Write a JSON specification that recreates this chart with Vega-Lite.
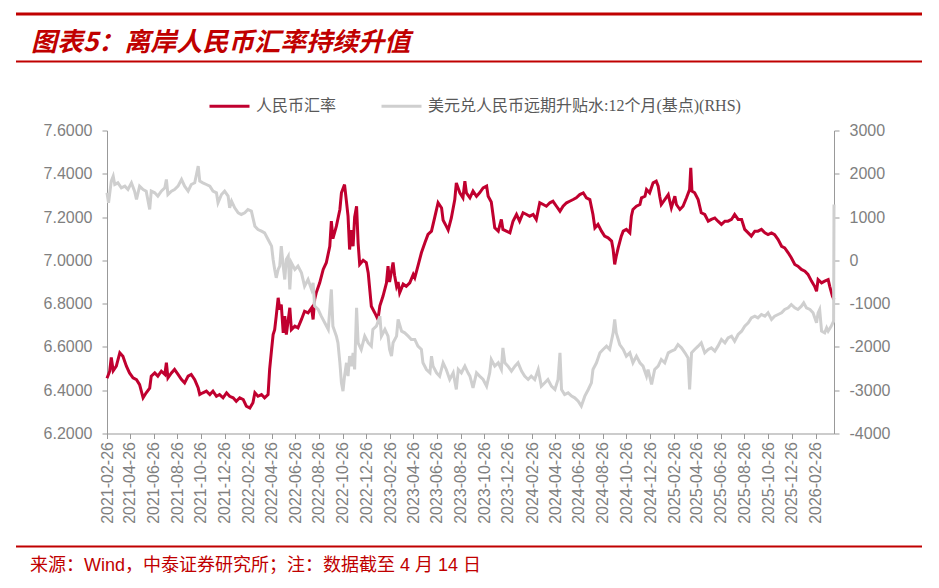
{
"$schema": "https://vega.github.io/schema/vega-lite/v6.json",
"background": "white",
"padding": {"left": 16, "top": 12.5, "right": 0, "bottom": 5},
"config": {"view": {"stroke": null}, "axisX": {"labelOverlap": false, "labelSeparation": 0, "labelFlush": false, "labelBound": false}},
"datasets": {
"cny": [
{"date":"2021-02-26","value":6.455},{"date":"2021-03-05","value":6.488},{"date":"2021-03-09","value":6.551},{"date":"2021-03-14","value":6.49},{"date":"2021-03-22","value":6.511},{"date":"2021-03-31","value":6.573},{"date":"2021-04-08","value":6.557},{"date":"2021-04-17","value":6.511},{"date":"2021-04-25","value":6.48},{"date":"2021-05-04","value":6.457},{"date":"2021-05-13","value":6.449},{"date":"2021-05-21","value":6.426},{"date":"2021-05-30","value":6.365},{"date":"2021-06-07","value":6.388},{"date":"2021-06-16","value":6.41},{"date":"2021-06-20","value":6.465},{"date":"2021-06-29","value":6.48},{"date":"2021-07-07","value":6.465},{"date":"2021-07-16","value":6.488},{"date":"2021-07-25","value":6.473},{"date":"2021-07-29","value":6.527},{"date":"2021-08-02","value":6.457},{"date":"2021-08-11","value":6.48},{"date":"2021-08-19","value":6.496},{"date":"2021-08-28","value":6.473},{"date":"2021-09-06","value":6.449},{"date":"2021-09-14","value":6.434},{"date":"2021-09-23","value":6.465},{"date":"2021-10-01","value":6.473},{"date":"2021-10-10","value":6.449},{"date":"2021-10-19","value":6.41},{"date":"2021-10-23","value":6.38},{"date":"2021-10-31","value":6.388},{"date":"2021-11-09","value":6.396},{"date":"2021-11-18","value":6.38},{"date":"2021-11-26","value":6.396},{"date":"2021-12-05","value":6.372},{"date":"2021-12-13","value":6.38},{"date":"2021-12-22","value":6.365},{"date":"2021-12-31","value":6.388},{"date":"2022-01-08","value":6.372},{"date":"2022-01-17","value":6.365},{"date":"2022-01-25","value":6.349},{"date":"2022-02-03","value":6.365},{"date":"2022-02-12","value":6.357},{"date":"2022-02-20","value":6.326},{"date":"2022-03-01","value":6.318},{"date":"2022-03-09","value":6.342},{"date":"2022-03-14","value":6.388},{"date":"2022-03-22","value":6.372},{"date":"2022-03-31","value":6.38},{"date":"2022-04-08","value":6.365},{"date":"2022-04-17","value":6.38},{"date":"2022-04-21","value":6.496},{"date":"2022-04-26","value":6.588},{"date":"2022-04-30","value":6.657},{"date":"2022-05-04","value":6.68},{"date":"2022-05-08","value":6.742},{"date":"2022-05-13","value":6.827},{"date":"2022-05-17","value":6.773},{"date":"2022-05-21","value":6.796},{"date":"2022-05-26","value":6.665},{"date":"2022-05-30","value":6.742},{"date":"2022-06-03","value":6.657},{"date":"2022-06-12","value":6.781},{"date":"2022-06-16","value":6.68},{"date":"2022-06-25","value":6.696},{"date":"2022-07-03","value":6.688},{"date":"2022-07-12","value":6.727},{"date":"2022-07-20","value":6.765},{"date":"2022-07-29","value":6.757},{"date":"2022-08-07","value":6.78},{"date":"2022-08-11","value":6.727},{"date":"2022-08-15","value":6.819},{"date":"2022-08-19","value":6.85},{"date":"2022-08-28","value":6.896},{"date":"2022-09-06","value":6.958},{"date":"2022-09-14","value":6.989},{"date":"2022-09-23","value":7.065},{"date":"2022-09-27","value":7.181},{"date":"2022-10-01","value":7.1},{"date":"2022-10-10","value":7.158},{"date":"2022-10-19","value":7.235},{"date":"2022-10-23","value":7.312},{"date":"2022-10-31","value":7.35},{"date":"2022-11-05","value":7.27},{"date":"2022-11-09","value":7.204},{"date":"2022-11-13","value":7.05},{"date":"2022-11-18","value":7.14},{"date":"2022-11-22","value":7.065},{"date":"2022-11-26","value":7.2},{"date":"2022-12-01","value":7.25},{"date":"2022-12-05","value":7.08},{"date":"2022-12-09","value":6.981},{"date":"2022-12-18","value":7.0},{"date":"2022-12-26","value":6.99},{"date":"2022-12-31","value":6.942},{"date":"2023-01-04","value":6.865},{"date":"2023-01-08","value":6.788},{"date":"2023-01-17","value":6.757},{"date":"2023-01-25","value":6.727},{"date":"2023-01-30","value":6.79},{"date":"2023-02-07","value":6.834},{"date":"2023-02-16","value":6.896},{"date":"2023-02-20","value":6.973},{"date":"2023-02-24","value":6.9},{"date":"2023-03-05","value":6.99},{"date":"2023-03-09","value":6.93},{"date":"2023-03-14","value":6.88},{"date":"2023-03-18","value":6.9},{"date":"2023-03-22","value":6.85},{"date":"2023-03-31","value":6.89},{"date":"2023-04-08","value":6.88},{"date":"2023-04-17","value":6.896},{"date":"2023-04-26","value":6.935},{"date":"2023-04-30","value":6.92},{"date":"2023-05-08","value":6.973},{"date":"2023-05-17","value":7.035},{"date":"2023-05-26","value":7.081},{"date":"2023-06-03","value":7.12},{"date":"2023-06-12","value":7.135},{"date":"2023-06-20","value":7.196},{"date":"2023-06-29","value":7.266},{"date":"2023-07-08","value":7.242},{"date":"2023-07-12","value":7.185},{"date":"2023-07-20","value":7.158},{"date":"2023-07-25","value":7.14},{"date":"2023-08-02","value":7.195},{"date":"2023-08-11","value":7.281},{"date":"2023-08-15","value":7.358},{"date":"2023-08-24","value":7.312},{"date":"2023-09-01","value":7.289},{"date":"2023-09-06","value":7.366},{"date":"2023-09-10","value":7.312},{"date":"2023-09-19","value":7.289},{"date":"2023-09-27","value":7.32},{"date":"2023-10-06","value":7.296},{"date":"2023-10-14","value":7.312},{"date":"2023-10-23","value":7.335},{"date":"2023-11-01","value":7.343},{"date":"2023-11-05","value":7.296},{"date":"2023-11-13","value":7.27},{"date":"2023-11-18","value":7.204},{"date":"2023-11-22","value":7.15},{"date":"2023-12-01","value":7.135},{"date":"2023-12-09","value":7.189},{"date":"2023-12-13","value":7.143},{"date":"2023-12-22","value":7.135},{"date":"2023-12-31","value":7.127},{"date":"2024-01-08","value":7.181},{"date":"2024-01-17","value":7.212},{"date":"2024-01-25","value":7.181},{"date":"2024-02-03","value":7.22},{"date":"2024-02-12","value":7.212},{"date":"2024-02-20","value":7.204},{"date":"2024-02-29","value":7.212},{"date":"2024-03-08","value":7.189},{"date":"2024-03-17","value":7.266},{"date":"2024-03-26","value":7.258},{"date":"2024-04-03","value":7.25},{"date":"2024-04-12","value":7.266},{"date":"2024-04-20","value":7.273},{"date":"2024-04-29","value":7.25},{"date":"2024-05-08","value":7.227},{"date":"2024-05-16","value":7.25},{"date":"2024-05-25","value":7.266},{"date":"2024-06-02","value":7.273},{"date":"2024-06-11","value":7.281},{"date":"2024-06-19","value":7.289},{"date":"2024-06-28","value":7.304},{"date":"2024-07-07","value":7.312},{"date":"2024-07-15","value":7.289},{"date":"2024-07-24","value":7.281},{"date":"2024-08-01","value":7.212},{"date":"2024-08-06","value":7.15},{"date":"2024-08-14","value":7.166},{"date":"2024-08-23","value":7.135},{"date":"2024-08-31","value":7.112},{"date":"2024-09-09","value":7.104},{"date":"2024-09-18","value":7.089},{"date":"2024-09-22","value":7.05},{"date":"2024-09-26","value":6.981},{"date":"2024-09-30","value":7.019},{"date":"2024-10-05","value":7.058},{"date":"2024-10-13","value":7.112},{"date":"2024-10-18","value":7.135},{"date":"2024-10-26","value":7.143},{"date":"2024-11-04","value":7.127},{"date":"2024-11-08","value":7.204},{"date":"2024-11-12","value":7.235},{"date":"2024-11-21","value":7.25},{"date":"2024-11-30","value":7.258},{"date":"2024-12-04","value":7.289},{"date":"2024-12-13","value":7.296},{"date":"2024-12-17","value":7.327},{"date":"2024-12-25","value":7.312},{"date":"2025-01-03","value":7.358},{"date":"2025-01-11","value":7.366},{"date":"2025-01-16","value":7.343},{"date":"2025-01-20","value":7.296},{"date":"2025-01-24","value":7.258},{"date":"2025-02-02","value":7.281},{"date":"2025-02-11","value":7.304},{"date":"2025-02-19","value":7.243},{"date":"2025-02-28","value":7.296},{"date":"2025-03-04","value":7.258},{"date":"2025-03-13","value":7.235},{"date":"2025-03-21","value":7.25},{"date":"2025-03-30","value":7.289},{"date":"2025-04-07","value":7.327},{"date":"2025-04-10","value":7.428},{"date":"2025-04-13","value":7.32},{"date":"2025-04-20","value":7.312},{"date":"2025-04-29","value":7.281},{"date":"2025-05-03","value":7.25},{"date":"2025-05-07","value":7.22},{"date":"2025-05-16","value":7.212},{"date":"2025-05-25","value":7.181},{"date":"2025-06-02","value":7.189},{"date":"2025-06-11","value":7.196},{"date":"2025-06-19","value":7.181},{"date":"2025-06-28","value":7.166},{"date":"2025-07-07","value":7.181},{"date":"2025-07-15","value":7.181},{"date":"2025-07-24","value":7.189},{"date":"2025-08-01","value":7.212},{"date":"2025-08-10","value":7.189},{"date":"2025-08-19","value":7.189},{"date":"2025-08-27","value":7.143},{"date":"2025-09-05","value":7.127},{"date":"2025-09-13","value":7.112},{"date":"2025-09-22","value":7.135},{"date":"2025-09-30","value":7.135},{"date":"2025-10-09","value":7.143},{"date":"2025-10-18","value":7.127},{"date":"2025-10-26","value":7.119},{"date":"2025-11-04","value":7.127},{"date":"2025-11-12","value":7.119},{"date":"2025-11-21","value":7.096},{"date":"2025-11-30","value":7.065},{"date":"2025-12-08","value":7.058},{"date":"2025-12-17","value":7.035},{"date":"2025-12-25","value":7.012},{"date":"2026-01-03","value":6.981},{"date":"2026-01-11","value":6.973},{"date":"2026-01-20","value":6.958},{"date":"2026-01-29","value":6.95},{"date":"2026-02-06","value":6.935},{"date":"2026-02-15","value":6.904},{"date":"2026-02-23","value":6.88},{"date":"2026-02-28","value":6.857},{"date":"2026-03-04","value":6.911},{"date":"2026-03-13","value":6.896},{"date":"2026-03-21","value":6.904},{"date":"2026-03-30","value":6.911},{"date":"2026-04-03","value":6.88},{"date":"2026-04-10","value":6.834},{"date":"2026-04-14","value":6.819}
],
"swap": [
{"date":"2021-02-26","value":1560},{"date":"2021-03-02","value":1329},{"date":"2021-03-09","value":1830},{"date":"2021-03-14","value":1945},{"date":"2021-03-18","value":1752},{"date":"2021-03-26","value":1791},{"date":"2021-04-04","value":1676},{"date":"2021-04-13","value":1714},{"date":"2021-04-21","value":1637},{"date":"2021-04-30","value":1791},{"date":"2021-05-08","value":1599},{"date":"2021-05-13","value":1406},{"date":"2021-05-21","value":1714},{"date":"2021-05-30","value":1637},{"date":"2021-06-07","value":1599},{"date":"2021-06-16","value":1175},{"date":"2021-06-20","value":1599},{"date":"2021-06-29","value":1560},{"date":"2021-07-07","value":1483},{"date":"2021-07-16","value":1599},{"date":"2021-07-25","value":1676},{"date":"2021-07-29","value":1868},{"date":"2021-08-02","value":1521},{"date":"2021-08-11","value":1599},{"date":"2021-08-19","value":1637},{"date":"2021-08-28","value":1714},{"date":"2021-09-06","value":1868},{"date":"2021-09-14","value":1714},{"date":"2021-09-23","value":1599},{"date":"2021-10-01","value":1752},{"date":"2021-10-10","value":1791},{"date":"2021-10-19","value":2176},{"date":"2021-10-23","value":1830},{"date":"2021-10-31","value":1791},{"date":"2021-11-09","value":1752},{"date":"2021-11-18","value":1714},{"date":"2021-11-26","value":1599},{"date":"2021-12-05","value":1560},{"date":"2021-12-09","value":1329},{"date":"2021-12-18","value":1521},{"date":"2021-12-26","value":1599},{"date":"2022-01-04","value":1483},{"date":"2022-01-08","value":1214},{"date":"2022-01-13","value":1367},{"date":"2022-01-21","value":1214},{"date":"2022-01-30","value":1098},{"date":"2022-02-07","value":1060},{"date":"2022-02-16","value":1098},{"date":"2022-02-24","value":1175},{"date":"2022-03-05","value":1137},{"date":"2022-03-09","value":983},{"date":"2022-03-14","value":790},{"date":"2022-03-22","value":713},{"date":"2022-03-31","value":675},{"date":"2022-04-08","value":636},{"date":"2022-04-17","value":482},{"date":"2022-04-26","value":328},{"date":"2022-04-30","value":20},{"date":"2022-05-04","value":-211},{"date":"2022-05-08","value":-404},{"date":"2022-05-13","value":-211},{"date":"2022-05-17","value":-134},{"date":"2022-05-21","value":328},{"date":"2022-05-26","value":-134},{"date":"2022-05-30","value":-442},{"date":"2022-06-03","value":20},{"date":"2022-06-08","value":97},{"date":"2022-06-12","value":-673},{"date":"2022-06-16","value":-57},{"date":"2022-06-25","value":-211},{"date":"2022-07-03","value":-134},{"date":"2022-07-12","value":-288},{"date":"2022-07-20","value":-596},{"date":"2022-07-29","value":-442},{"date":"2022-08-07","value":-673},{"date":"2022-08-11","value":-519},{"date":"2022-08-15","value":-1058},{"date":"2022-08-24","value":-1135},{"date":"2022-09-01","value":-1289},{"date":"2022-09-10","value":-1443},{"date":"2022-09-19","value":-1597},{"date":"2022-09-27","value":-673},{"date":"2022-10-01","value":-1520},{"date":"2022-10-10","value":-1751},{"date":"2022-10-14","value":-1905},{"date":"2022-10-19","value":-2367},{"date":"2022-10-23","value":-2829},{"date":"2022-10-27","value":-3022},{"date":"2022-10-31","value":-2675},{"date":"2022-11-05","value":-2367},{"date":"2022-11-09","value":-2675},{"date":"2022-11-13","value":-2213},{"date":"2022-11-18","value":-2444},{"date":"2022-11-22","value":-2136},{"date":"2022-11-26","value":-2521},{"date":"2022-12-01","value":-1097},{"date":"2022-12-05","value":-1905},{"date":"2022-12-13","value":-2059},{"date":"2022-12-22","value":-1751},{"date":"2022-12-31","value":-1905},{"date":"2023-01-08","value":-1982},{"date":"2023-01-12","value":-1597},{"date":"2023-01-21","value":-1520},{"date":"2023-01-30","value":-1289},{"date":"2023-02-03","value":-1751},{"date":"2023-02-12","value":-1597},{"date":"2023-02-20","value":-1751},{"date":"2023-02-24","value":-2059},{"date":"2023-03-01","value":-2213},{"date":"2023-03-05","value":-1905},{"date":"2023-03-14","value":-1751},{"date":"2023-03-18","value":-1366},{"date":"2023-03-27","value":-1636},{"date":"2023-04-04","value":-1674},{"date":"2023-04-13","value":-1751},{"date":"2023-04-21","value":-1828},{"date":"2023-04-30","value":-1828},{"date":"2023-05-08","value":-1982},{"date":"2023-05-17","value":-2059},{"date":"2023-05-21","value":-2367},{"date":"2023-05-30","value":-2521},{"date":"2023-06-08","value":-2598},{"date":"2023-06-12","value":-2213},{"date":"2023-06-16","value":-2444},{"date":"2023-06-25","value":-2598},{"date":"2023-07-03","value":-2675},{"date":"2023-07-12","value":-2367},{"date":"2023-07-20","value":-2521},{"date":"2023-07-29","value":-2752},{"date":"2023-08-07","value":-2598},{"date":"2023-08-15","value":-2983},{"date":"2023-08-20","value":-2521},{"date":"2023-08-28","value":-2598},{"date":"2023-09-06","value":-2444},{"date":"2023-09-14","value":-2598},{"date":"2023-09-19","value":-2675},{"date":"2023-09-27","value":-2945},{"date":"2023-10-06","value":-2598},{"date":"2023-10-14","value":-2675},{"date":"2023-10-23","value":-2752},{"date":"2023-11-01","value":-2906},{"date":"2023-11-09","value":-2598},{"date":"2023-11-13","value":-2290},{"date":"2023-11-22","value":-2444},{"date":"2023-12-01","value":-2367},{"date":"2023-12-09","value":-2521},{"date":"2023-12-13","value":-2021},{"date":"2023-12-18","value":-2367},{"date":"2023-12-26","value":-2444},{"date":"2024-01-04","value":-2560},{"date":"2024-01-13","value":-2444},{"date":"2024-01-21","value":-2367},{"date":"2024-01-30","value":-2560},{"date":"2024-02-07","value":-2675},{"date":"2024-02-16","value":-2752},{"date":"2024-02-24","value":-2675},{"date":"2024-03-04","value":-2752},{"date":"2024-03-13","value":-2521},{"date":"2024-03-21","value":-2906},{"date":"2024-03-30","value":-2829},{"date":"2024-04-07","value":-2752},{"date":"2024-04-16","value":-2906},{"date":"2024-04-25","value":-2983},{"date":"2024-05-03","value":-2752},{"date":"2024-05-08","value":-2136},{"date":"2024-05-12","value":-2983},{"date":"2024-05-20","value":-3099},{"date":"2024-05-29","value":-3060},{"date":"2024-06-07","value":-3137},{"date":"2024-06-15","value":-3176},{"date":"2024-06-24","value":-3253},{"date":"2024-07-02","value":-3368},{"date":"2024-07-11","value":-3137},{"date":"2024-07-20","value":-2983},{"date":"2024-07-28","value":-2829},{"date":"2024-08-01","value":-2521},{"date":"2024-08-10","value":-2367},{"date":"2024-08-19","value":-2136},{"date":"2024-08-27","value":-2059},{"date":"2024-09-05","value":-1982},{"date":"2024-09-13","value":-2059},{"date":"2024-09-22","value":-1674},{"date":"2024-09-26","value":-1366},{"date":"2024-09-30","value":-1674},{"date":"2024-10-09","value":-1944},{"date":"2024-10-18","value":-2059},{"date":"2024-10-26","value":-2213},{"date":"2024-11-04","value":-2136},{"date":"2024-11-12","value":-2367},{"date":"2024-11-21","value":-2213},{"date":"2024-11-30","value":-2367},{"date":"2024-12-08","value":-2444},{"date":"2024-12-17","value":-2675},{"date":"2024-12-21","value":-2521},{"date":"2024-12-30","value":-2868},{"date":"2025-01-07","value":-2521},{"date":"2025-01-16","value":-2444},{"date":"2025-01-24","value":-2290},{"date":"2025-02-02","value":-2367},{"date":"2025-02-11","value":-2136},{"date":"2025-02-19","value":-2098},{"date":"2025-02-28","value":-2059},{"date":"2025-03-08","value":-1944},{"date":"2025-03-17","value":-2021},{"date":"2025-03-26","value":-2136},{"date":"2025-04-03","value":-2252},{"date":"2025-04-07","value":-2983},{"date":"2025-04-12","value":-2136},{"date":"2025-04-20","value":-2059},{"date":"2025-04-29","value":-1982},{"date":"2025-05-07","value":-1905},{"date":"2025-05-16","value":-2136},{"date":"2025-05-25","value":-2059},{"date":"2025-06-02","value":-2021},{"date":"2025-06-11","value":-2098},{"date":"2025-06-19","value":-1982},{"date":"2025-06-28","value":-1828},{"date":"2025-07-07","value":-1905},{"date":"2025-07-15","value":-1790},{"date":"2025-07-24","value":-1751},{"date":"2025-08-01","value":-1867},{"date":"2025-08-10","value":-1713},{"date":"2025-08-19","value":-1636},{"date":"2025-08-27","value":-1520},{"date":"2025-09-05","value":-1443},{"date":"2025-09-13","value":-1328},{"date":"2025-09-22","value":-1289},{"date":"2025-09-30","value":-1328},{"date":"2025-10-09","value":-1251},{"date":"2025-10-18","value":-1289},{"date":"2025-10-26","value":-1212},{"date":"2025-11-04","value":-1366},{"date":"2025-11-12","value":-1289},{"date":"2025-11-21","value":-1251},{"date":"2025-11-30","value":-1212},{"date":"2025-12-08","value":-1135},{"date":"2025-12-17","value":-1097},{"date":"2025-12-25","value":-1020},{"date":"2026-01-03","value":-1097},{"date":"2026-01-11","value":-1135},{"date":"2026-01-20","value":-1058},{"date":"2026-01-26","value":-981},{"date":"2026-02-02","value":-1097},{"date":"2026-02-11","value":-1135},{"date":"2026-02-19","value":-1212},{"date":"2026-02-28","value":-1443},{"date":"2026-03-04","value":-1212},{"date":"2026-03-08","value":-1135},{"date":"2026-03-13","value":-1636},{"date":"2026-03-21","value":-1674},{"date":"2026-03-26","value":-1559},{"date":"2026-03-30","value":-1636},{"date":"2026-04-07","value":-1520},{"date":"2026-04-13","value":-1405},{"date":"2026-04-14","value":1290}
]
},
"concat": [
{
"width": 906, "height": 3,
"view": {"fill": "#C00000", "stroke": null},
"title": {"text": "图表5：离岸人民币汇率持续升值", "orient": "bottom", "anchor": "start", "frame": "group", "offset": 14, "dx": 15, "font": "Noto Sans CJK SC", "fontSize": 26, "fontWeight": "bold", "fontStyle": "italic", "color": "#C00000"},
"data": {"values": []},
"mark": "point",
"encoding": {}
},
{
"width": 906, "height": 2,
"view": {"fill": "#C00000", "stroke": null},
"data": {"values": []},
"mark": "point",
"encoding": {}
},
{
"hconcat": [
{
"width": 1, "height": 303,
"data": {"values": []},
"mark": "point",
"encoding": {}
},
{
"width": 727, "height": 303,
"encoding": {
"x": {"field": "date", "type": "temporal",
"scale": {"type": "utc", "domain": [{"year": 2021, "month": 2, "date": 26, "utc": true}, {"year": 2026, "month": 4, "date": 14, "utc": true}]},
"axis": {"title": null, "grid": false, "format": "%Y-%m-%d", "labelAngle": -90, "labelFont": "Liberation Sans", "labelFontSize": 16, "labelColor": "#7f7f7f", "labelPadding": 3, "labelOverlap": false, "labelFlush": false, "domainColor": "#999999", "tickColor": "#999999", "tickSize": 5, "minExtent": 107,
"values": [
{"year":2021,"month":2,"date":26,"utc":true},{"year":2021,"month":4,"date":26,"utc":true},{"year":2021,"month":6,"date":26,"utc":true},{"year":2021,"month":8,"date":26,"utc":true},{"year":2021,"month":10,"date":26,"utc":true},{"year":2021,"month":12,"date":26,"utc":true},
{"year":2022,"month":2,"date":26,"utc":true},{"year":2022,"month":4,"date":26,"utc":true},{"year":2022,"month":6,"date":26,"utc":true},{"year":2022,"month":8,"date":26,"utc":true},{"year":2022,"month":10,"date":26,"utc":true},{"year":2022,"month":12,"date":26,"utc":true},
{"year":2023,"month":2,"date":26,"utc":true},{"year":2023,"month":4,"date":26,"utc":true},{"year":2023,"month":6,"date":26,"utc":true},{"year":2023,"month":8,"date":26,"utc":true},{"year":2023,"month":10,"date":26,"utc":true},{"year":2023,"month":12,"date":26,"utc":true},
{"year":2024,"month":2,"date":26,"utc":true},{"year":2024,"month":4,"date":26,"utc":true},{"year":2024,"month":6,"date":26,"utc":true},{"year":2024,"month":8,"date":26,"utc":true},{"year":2024,"month":10,"date":26,"utc":true},{"year":2024,"month":12,"date":26,"utc":true},
{"year":2025,"month":2,"date":26,"utc":true},{"year":2025,"month":4,"date":26,"utc":true},{"year":2025,"month":6,"date":26,"utc":true},{"year":2025,"month":8,"date":26,"utc":true},{"year":2025,"month":10,"date":26,"utc":true},{"year":2025,"month":12,"date":26,"utc":true},
{"year":2026,"month":2,"date":26,"utc":true}
]}}
},
"layer": [
{
"data": {"name": "cny"},
"mark": {"type": "line", "strokeWidth": 3},
"encoding": {
"y": {"field": "value", "type": "quantitative",
"scale": {"domain": [6.2, 7.6], "nice": false, "zero": false},
"axis": {"orient": "left", "title": null, "grid": false, "format": ".4f", "values": [6.2, 6.4, 6.6, 6.8, 7.0, 7.2, 7.4, 7.6], "labelFont": "Liberation Sans", "labelFontSize": 16, "labelColor": "#7f7f7f", "labelPadding": 10, "domainColor": "#999999", "tickColor": "#999999", "tickSize": 5, "minExtent": 90}},
"color": {"datum": "人民币汇率", "type": "nominal",
"scale": {"domain": ["人民币汇率", "美元兑人民币远期升贴水:12个月(基点)(RHS)"], "range": ["#C0002F", "#CFCFCF"]},
"legend": {"orient": "none", "legendX": 84, "legendY": -63, "direction": "horizontal", "title": null, "symbolType": "stroke", "symbolSize": 1600, "symbolStrokeWidth": 3, "labelFont": "Liberation Serif, Noto Sans CJK SC", "labelFontSize": 16, "labelColor": "#595959", "labelLimit": 400, "labelOffset": 5, "columnPadding": 38, "padding": 17, "fillColor": "#ffffff"}}
}
},
{
"data": {"name": "swap"},
"mark": {"type": "line", "strokeWidth": 3},
"encoding": {
"y": {"field": "value", "type": "quantitative",
"scale": {"domain": [-4000, 3000], "nice": false, "zero": false},
"axis": {"orient": "right", "title": null, "grid": false, "values": [-4000, -3000, -2000, -1000, 0, 1000, 2000, 3000], "labelExpr": "'' + datum.value", "labelFont": "Liberation Sans", "labelFontSize": 16, "labelColor": "#7f7f7f", "labelPadding": 10, "domainColor": "#999999", "tickColor": "#999999", "tickSize": 5}},
"color": {"datum": "美元兑人民币远期升贴水:12个月(基点)(RHS)", "type": "nominal"}
}
}
],
"resolve": {"scale": {"y": "independent"}}
}
],
"spacing": 0,
"resolve": {"scale": {"color": "independent"}, "legend": {"color": "independent"}}
},
{
"width": 906, "height": 2,
"view": {"fill": "#C00000", "stroke": null},
"title": {"text": "来源：Wind，中泰证券研究所；注：数据截至 4 月 14 日", "orient": "bottom", "anchor": "start", "frame": "group", "offset": 9, "dx": 14, "font": "Liberation Sans, Noto Sans CJK SC", "fontSize": 18, "fontWeight": "normal", "color": "#C00000"},
"data": {"values": []},
"mark": "point",
"encoding": {}
}
],
"columns": 1,
"spacing": 5,
"resolve": {"scale": {"color": "independent"}, "legend": {"color": "independent"}}
}
